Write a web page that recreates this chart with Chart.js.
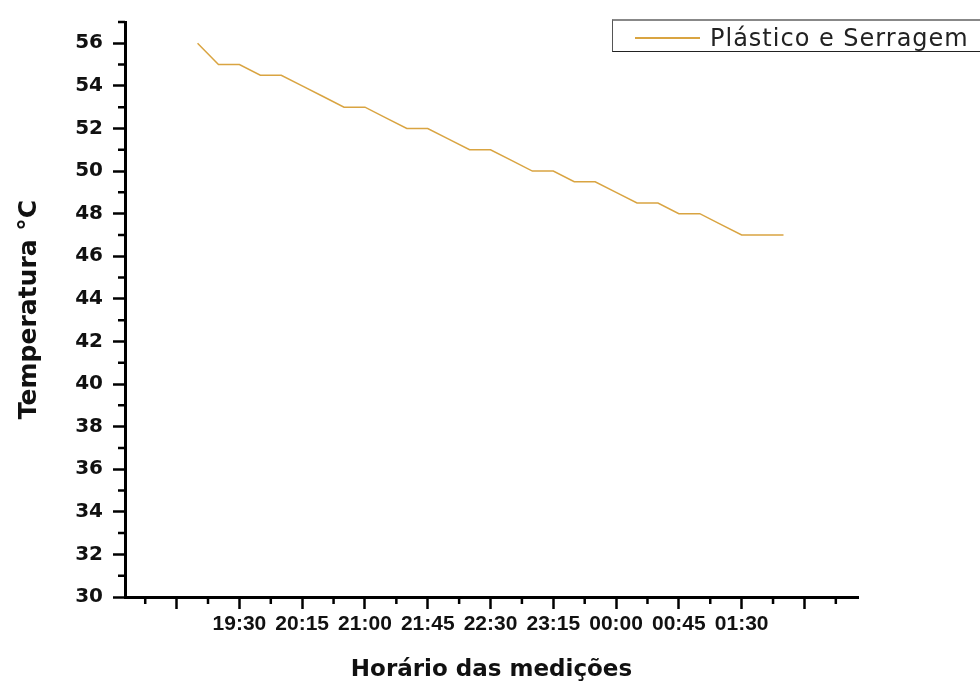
<!DOCTYPE html>
<html lang="pt">
<head>
<meta charset="utf-8">
<title>Temperatura - Plástico e Serragem</title>
<script src="https://cdn.jsdelivr.net/npm/chart.js@4.4.1/dist/chart.umd.min.js"></script>
<style>
  body { margin: 0; background: #fff; overflow: hidden; }
  #wrap { position: relative; width: 980px; height: 686px; overflow: hidden; }
  #legend {
    position: absolute; left: 612px; top: 19px; width: 420px; height: 33px;
    box-sizing: border-box; background: #fff;
    border: 1px solid #555; border-top: 2px solid #888; border-bottom: 1px solid #222;
  }
  #legend .sample { position: absolute; left: 22px; top: 16px; width: 65px; height: 1.5px; }
  #legend .text {
    position: absolute; left: 97px; top: 2px; line-height: 30px; white-space: nowrap;
    font-family: "DejaVu Sans", sans-serif; font-size: 24px; letter-spacing: 1px; color: #222;
  }
</style>
</head>
<body>
<div id="wrap">
  <canvas id="chart"></canvas>
  <div id="legend"></div>
</div>
<script>
/* --------------- Data --------------------- */
const seriesName = "Plástico e Serragem";
const times = ["19:00", "19:15", "19:30", "19:45", "20:00", "20:15", "20:30", "20:45",
    "21:00", "21:15", "21:30", "21:45", "22:00", "22:15", "22:30", "22:45",
    "23:00", "23:15", "23:30", "23:45", "00:00", "00:15", "00:30", "00:45",
    "01:00", "01:15", "01:30", "01:45", "02:00"];
const temps = [56, 55, 55, 54.5, 54.5, 54, 53.5, 53,
    53, 52.5, 52, 52, 51.5, 51, 51, 50.5,
    50, 50, 49.5, 49.5, 49, 48.5, 48.5, 48,
    48, 47.5, 47, 47, 47];
/* --------------- Axis ticks --------------------- */
const majorTimes = ["18:45", "19:30", "20:15", "21:00", "21:45", "22:30", "23:15",
    "00:00", "00:45", "01:30", "02:15"];
const tickLabels = ["19:30", "20:15", "21:00", "21:45", "22:30", "23:15", "00:00", "00:45", "01:30"];
const yLabels = [30, 32, 34, 36, 38, 40, 42, 44, 46, 48, 50, 52, 54, 56];

const lineColor = "#d9a441";

// minutes counted from 18:00, times after midnight go on past 24:00
const toMin = (t) => {
    let [h, m] = t.split(":").map(Number);
    if (h < 12) h += 24;
    return h * 60 + m - 18 * 60;
};

const xMin = 8, xMax = 533.4;

const xTicks = () => {
    const majors = majorTimes.map(toMin);
    const list = majors.map(v => ({ value: v, major: true }));
    majors.forEach(v => {
        [v - 22.5, v + 22.5].forEach(m => {
            if (m > xMin && m < xMax && !list.some(t => t.value === m)) list.push({ value: m, major: false });
        });
    });
    return list.sort((a, b) => a.value - b.value);
};

const yTicks = (min, max) => {
    const list = [];
    for (let v = min; v <= max; v++) list.push({ value: v, major: yLabels.includes(v) });
    return list;
};

/* --------------- Minor tick marks --------------------- */
const minorTicks = {
    id: "minorTicks",
    afterDraw(chart) {
        const { ctx, chartArea } = chart;
        ctx.save();
        ctx.strokeStyle = "#000";
        ctx.lineWidth = 2.5;
        ctx.beginPath();
        chart.scales.x.ticks.forEach(t => {
            if (t.major) return;
            const px = chart.scales.x.getPixelForValue(t.value);
            ctx.moveTo(px, chartArea.bottom);
            ctx.lineTo(px, chartArea.bottom + 7);
        });
        chart.scales.y.ticks.forEach(t => {
            if (t.major) return;
            const py = chart.scales.y.getPixelForValue(t.value);
            ctx.moveTo(chartArea.left - 7, py);
            ctx.lineTo(chartArea.left, py);
        });
        ctx.stroke();
        ctx.restore();
    },
};

/* --------------- Chart --------------------- */
const chart = new Chart(document.getElementById("chart"), {
    type: "line",
    plugins: [minorTicks],
    data: {
        datasets: [{
            label: seriesName,
            data: times.map((t, i) => ({ x: toMin(t), y: temps[i] })),
            borderColor: lineColor,
            borderWidth: 1.5,
            pointRadius: 0,
            tension: 0,
            fill: false,
        }],
    },
    options: {
        responsive: true,
        maintainAspectRatio: false,
        animation: false,
        layout: { padding: { top: 15, right: 122, left: 0, bottom: 0 } },
        plugins: {
            legend: { display: false },
            tooltip: { enabled: false },
        },
        scales: {
            x: {
                type: "linear",
                min: xMin,
                max: xMax,
                afterBuildTicks: (scale) => { scale.ticks = xTicks(); },
                afterFit: (scale) => { scale.height = 89; },
                grid: {
                    drawOnChartArea: false,
                    drawTicks: true,
                    tickLength: 12,
                    tickWidth: 2.5,
                    tickColor: (c) => (c.tick && c.tick.major ? "#000" : "rgba(0,0,0,0)"),
                },
                border: { display: true, color: "#000", width: 3 },
                ticks: {
                    autoSkip: false,
                    maxRotation: 0,
                    minRotation: 0,
                    padding: 3,
                    color: "#111",
                    font: { family: "'Liberation Sans', Arial, sans-serif", size: 21, weight: "bold" },
                    callback: (value) => {
                        const lbl = tickLabels.find(t => toMin(t) === value);
                        return lbl || "";
                    },
                },
                title: {
                    display: true,
                    text: "Horário das medições",
                    color: "#111",
                    padding: { top: 0, bottom: 2 },
                    font: { family: "'DejaVu Sans', sans-serif", size: 23, weight: "bold" },
                },
            },
            y: {
                min: 30,
                max: 57,
                afterBuildTicks: (scale) => { scale.ticks = yTicks(30, 57); },
                afterFit: (scale) => { scale.width = 125; },
                grid: {
                    drawOnChartArea: false,
                    drawTicks: true,
                    tickLength: 12,
                    tickWidth: 2.5,
                    tickColor: (c) => (c.tick && c.tick.major ? "#000" : "rgba(0,0,0,0)"),
                },
                border: { display: true, color: "#000", width: 3 },
                ticks: {
                    autoSkip: false,
                    padding: 10,
                    color: "#111",
                    font: { family: "'DejaVu Sans', sans-serif", size: 20, weight: "bold" },
                    callback: (value) => (yLabels.includes(value) ? String(value) : ""),
                },
                title: {
                    display: true,
                    text: "Temperatura °C",
                    color: "#111",
                    padding: { top: 14, bottom: 0 },
                    font: { family: "'DejaVu Sans', sans-serif", size: 25, weight: "bold" },
                },
            },
        },
    },
});

/* --------------- Legend box --------------------- */
const legend = document.getElementById("legend");
chart.data.datasets.forEach(ds => {
    legend.innerHTML = `<span class="sample" style="background:${ds.borderColor}"></span>` +
        `<span class="text">${ds.label}</span>`;
});
</script>
</body>
</html>
